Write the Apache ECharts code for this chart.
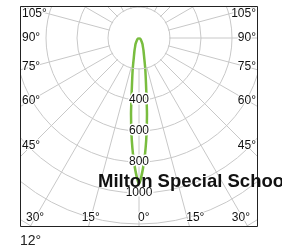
<!DOCTYPE html>
<html>
<head>
<meta charset="utf-8">
<script src="https://cdn.jsdelivr.net/npm/echarts@6/dist/echarts.min.js"></script>
<style>
  html, body { margin: 0; padding: 0; background: #fff; }
  #chart { width: 282px; height: 251px; }
</style>
</head>
<body>
<div id="chart"></div>
<script>
// luminous intensity (cd) per angle from the downward axis, same on both sides
const angles = [0, 2, 4, 6, 8, 10, 12, 15, 20, 25, 30, 45, 60, 90];
const intensity = [942, 825, 664, 493, 334, 247, 189, 129, 84, 58, 45, 18, 8, 0];
const radiusLabels = [400, 600, 800, 1000];
const leftAngleLabels = [105, 90, 75, 60, 45, 30, 15];
const rightAngleLabels = [0, 15, 30, 45, 60, 75, 90, 105];
const title = 'Milton Special School';
const footer = '12°';

const FONT = '"Liberation Sans", Arial, sans-serif';
const BOX = { x: 20, y: 6, w: 238, h: 221 };
const grid = '#c8c8c8';

// right side runs 360-a, left side a (clockwise from the bottom)
const curve = [];
for (let i = angles.length - 1; i >= 0; i--) curve.push([intensity[i], (360 - angles[i]) % 360]);
for (let i = 1; i < angles.length; i++) curve.push([intensity[i], angles[i]]);

// the 90 deg spoke on the left is not drawn in the original
const spokeColors = [];
for (let a = 0; a < 360; a += 15) spokeColors.push(a === 90 ? 'rgba(0,0,0,0)' : grid);

const chart = echarts.init(document.getElementById('chart'));
chart.setOption({
  animation: false,
  polar: { center: [139, 38], radius: 248 },
  angleAxis: {
    type: 'value', min: 0, max: 360, interval: 15,
    startAngle: 270, clockwise: true,
    axisLine: { show: false },
    axisTick: { show: false },
    axisLabel: { show: false },
    splitLine: { show: true, lineStyle: { color: spokeColors, width: 1 } }
  },
  radiusAxis: {
    type: 'value', min: 0, max: 1600, interval: 200,
    axisLine: { show: false },
    axisTick: { show: false },
    splitLine: { show: true, lineStyle: { color: grid, width: 1 } },
    axisLabel: {
      formatter: v => radiusLabels.indexOf(v) >= 0 ? String(v) : '',
      align: 'center', verticalAlign: 'middle', margin: 0,
      color: '#111', fontSize: 12, fontFamily: FONT,
      textBorderColor: '#fff', textBorderWidth: 3
    },
    z: 3
  },
  series: [{
    type: 'line',
    coordinateSystem: 'polar',
    data: curve,
    showSymbol: false,
    smooth: 0.2,
    lineStyle: { color: '#79bd3f', width: 2.5 },
    z: 2
  }]
});

const c = chart.convertToPixel({ polarIndex: 0 }, [0, 0]);
const p200 = chart.convertToPixel({ polarIndex: 0 }, [200, 0]);
const r200 = Math.hypot(p200[0] - c[0], p200[1] - c[1]);

const labelStyle = { fill: '#111', font: '12px ' + FONT, stroke: '#fff', lineWidth: 2 };
const els = [];

function addLabel(text, x, y, align) {
  els.push({
    type: 'text', x: x, y: y, z: 40,
    style: Object.assign({ text: text, align: align, verticalAlign: 'middle' }, labelStyle)
  });
}

const right = BOX.x + BOX.w;
const bottomY = BOX.y + BOX.h - 9;

function placeAngle(a, side) {
  const t = a * Math.PI / 180;
  const text = a + '°';
  if (a >= 45) {
    const d = c[0] - (BOX.x + 11);
    let y = c[1] + d * Math.cos(t) / Math.sin(t);
    y = Math.max(y, BOX.y + 8);
    if (side < 0) addLabel(text, BOX.x + 2, y, 'left');
    else addLabel(text, right - 2, y, 'right');
  } else {
    const x = c[0] + side * (bottomY - c[1]) * Math.tan(t);
    if (side < 0) addLabel(text, x, bottomY, 'center');
    else if (x + 20 > right - 8) addLabel(text, right - 8, bottomY, 'right');
    else addLabel(text, x - 1, bottomY, 'left');
  }
}
leftAngleLabels.forEach(a => placeAngle(a, -1));
rightAngleLabels.forEach(a => placeAngle(a, 1));

// blank centre: spokes start at the 200 cd ring
els.push({ type: 'circle', z: 1, shape: { cx: c[0], cy: c[1], r: r200 - 0.8 }, style: { fill: '#fff' } });

// everything is clipped to the frame
[[0, 0, BOX.x, 251], [right, 0, 282 - right, 251], [0, 0, 282, BOX.y], [0, BOX.y + BOX.h, 282, 251]]
  .forEach(r => els.push({ type: 'rect', z: 50, shape: { x: r[0], y: r[1], width: r[2], height: r[3] }, style: { fill: '#fff' } }));
els.push({ type: 'rect', z: 51, shape: { x: BOX.x + 0.5, y: BOX.y + 0.5, width: BOX.w - 1, height: BOX.h - 1 }, style: { fill: 'none', stroke: '#222', lineWidth: 1 } });

els.push({ type: 'text', z: 60, x: 98, y: 181.5, style: { text: title, fill: '#111', font: 'bold 18.5px ' + FONT, verticalAlign: 'middle' } });
els.push({ type: 'text', z: 60, x: 20, y: 241.5, style: { text: footer, fill: '#222', font: '14px ' + FONT, verticalAlign: 'middle' } });

chart.setOption({ graphic: { elements: els } });
</script>
</body>
</html>
